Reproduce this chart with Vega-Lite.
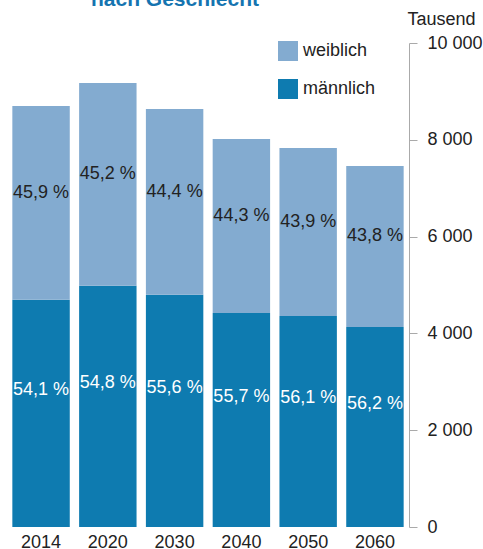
{
  "$schema": "https://vega.github.io/schema/vega-lite/v6.json",
  "width": 402,
  "height": 484,
  "autosize": {"type": "none"},
  "padding": {"left": 7, "top": 43, "right": 74, "bottom": 22},
  "config": {
    "view": {"stroke": null},
    "font": "Liberation Sans",
    "legend": {"padding": 0}
  },
  "title": {
    "text": "nach Geschlecht",
    "fontSize": 21,
    "fontWeight": "bold",
    "color": "#1574b0",
    "anchor": "middle",
    "frame": "group",
    "offset": 0,
    "baseline": "alphabetic",
    "dx": -33,
    "dy": 16
  },
  "data": {
    "values": [
      {"year": "2014", "sex": "männlich", "value": 4696, "label": "54,1 %"},
      {"year": "2014", "sex": "weiblich", "value": 4002, "label": "45,9 %"},
      {"year": "2020", "sex": "männlich", "value": 4986, "label": "54,8 %"},
      {"year": "2020", "sex": "weiblich", "value": 4188, "label": "45,2 %"},
      {"year": "2030", "sex": "männlich", "value": 4800, "label": "55,6 %"},
      {"year": "2030", "sex": "weiblich", "value": 3836, "label": "44,4 %"},
      {"year": "2040", "sex": "männlich", "value": 4421, "label": "55,7 %"},
      {"year": "2040", "sex": "weiblich", "value": 3596, "label": "44,3 %"},
      {"year": "2050", "sex": "männlich", "value": 4360, "label": "56,1 %"},
      {"year": "2050", "sex": "weiblich", "value": 3471, "label": "43,9 %"},
      {"year": "2060", "sex": "männlich", "value": 4132, "label": "56,2 %"},
      {"year": "2060", "sex": "weiblich", "value": 3327, "label": "43,8 %"}
    ]
  },
  "encoding": {
    "x": {
      "field": "year",
      "type": "nominal",
      "scale": {"paddingInner": 0.14, "paddingOuter": 0.08},
      "axis": {
        "title": null,
        "labelAngle": 0,
        "labelFontSize": 18,
        "labelColor": "#222222",
        "labelPadding": 6,
        "ticks": false,
        "domain": false
      }
    }
  },
  "resolve": {"axis": {"y": "independent"}},
  "layer": [
    {
      "mark": {"type": "bar"},
      "encoding": {
        "y": {
          "field": "value",
          "type": "quantitative",
          "stack": "zero",
          "scale": {"domain": [0, 10000], "nice": false},
          "axis": {
            "orient": "right",
            "values": [0, 2000, 4000, 6000, 8000, 10000],
            "labelExpr": "replace(format(datum.value, ','), ',', ' ')",
            "grid": false,
            "tickSize": 8,
            "tickColor": "#aaaaaa",
            "domainColor": "#aaaaaa",
            "labelPadding": 10,
            "labelFontSize": 18,
            "labelColor": "#222222",
            "title": "Tausend",
            "titleAngle": 0,
            "titleAlign": "left",
            "titleBaseline": "alphabetic",
            "titleX": -2,
            "titleY": -18.5,
            "titleFontSize": 18,
            "titleFontWeight": "normal",
            "titleColor": "#222222"
          }
        },
        "color": {
          "field": "sex",
          "type": "nominal",
          "scale": {"domain": ["weiblich", "männlich"], "range": ["#83abd0", "#0e7bb0"]},
          "legend": {
            "title": null,
            "orient": "none",
            "legendX": 271,
            "legendY": -2,
            "symbolType": "square",
            "symbolSize": 400,
            "symbolStrokeWidth": 0,
            "symbolOpacity": 1,
            "labelFontSize": 18,
            "labelColor": "#222222",
            "labelOffset": 5,
            "rowPadding": 18
          }
        },
        "order": {"field": "sex", "sort": "ascending"}
      }
    },
    {
      "transform": [
        {"stack": "value", "groupby": ["year"], "sort": [{"field": "sex", "order": "ascending"}], "as": ["lo", "hi"]},
        {"fold": ["lo", "hi"], "as": ["k", "pos"]},
        {"filter": "datum.sex == 'weiblich'"}
      ],
      "mark": {"type": "text", "fontSize": 18, "color": "#222222", "baseline": "middle", "dy": -10},
      "encoding": {
        "y": {"aggregate": "mean", "field": "pos", "type": "quantitative", "axis": null},
        "text": {"field": "label"}
      }
    },
    {
      "transform": [
        {"stack": "value", "groupby": ["year"], "sort": [{"field": "sex", "order": "ascending"}], "as": ["lo", "hi"]},
        {"fold": ["lo", "hi"], "as": ["k", "pos"]},
        {"filter": "datum.sex == 'männlich'"}
      ],
      "mark": {"type": "text", "fontSize": 18, "color": "white", "baseline": "middle", "dy": -23},
      "encoding": {
        "y": {"aggregate": "mean", "field": "pos", "type": "quantitative", "axis": null},
        "text": {"field": "label"}
      }
    }
  ]
}
